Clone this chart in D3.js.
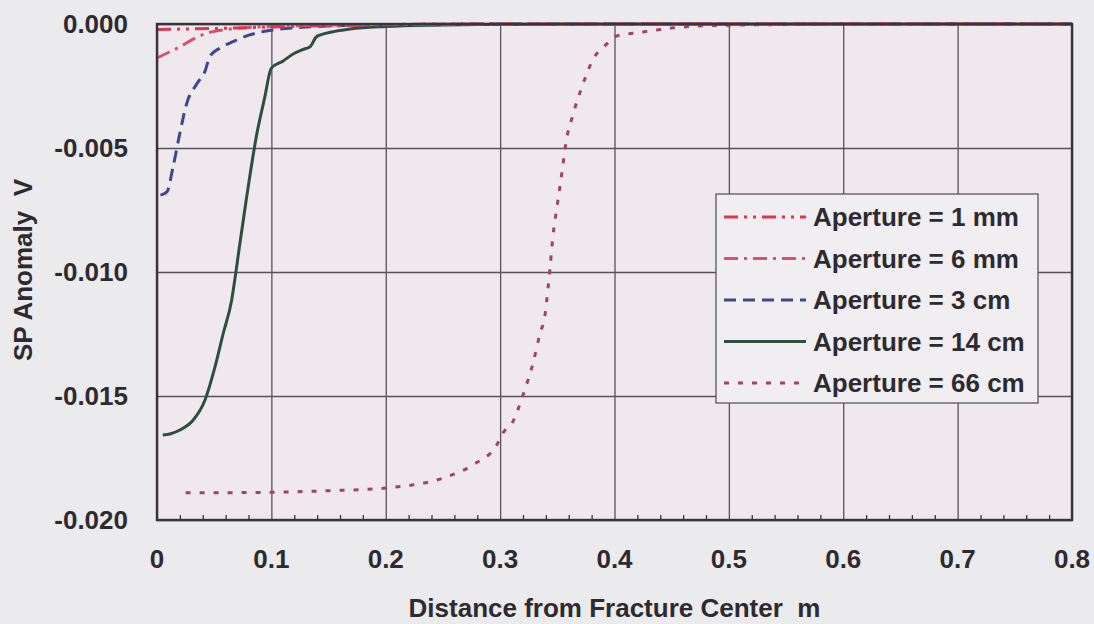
<!DOCTYPE html>
<html>
<head>
<meta charset="utf-8">
<script src="https://cdn.jsdelivr.net/npm/d3@7/dist/d3.min.js"></script>
<style>
  html, body { margin: 0; padding: 0; background: #ebeaec; }
  svg { display: block; }
  text { font-family: "Liberation Sans", Arial, sans-serif; font-weight: bold; fill: #2e2a31; white-space: pre; }
</style>
</head>
<body>
<svg id="chart" width="1094" height="624"></svg>
<script>
// SP anomaly vs distance from fracture centre, one series per aperture
const seriesNames = ["Aperture = 1 mm", "Aperture = 6 mm", "Aperture = 3 cm", "Aperture = 14 cm", "Aperture = 66 cm"];

const ap1mmX = [0, 0.05, 0.1, 0.15, 0.2, 0.3, 0.4, 0.5, 0.6, 0.7, 0.8];
const ap1mmY = [-0.00022, -0.00018, -0.00012, -0.00007, -0.00003, 0, 0, 0, 0, 0, 0];

const ap6mmX = [0, 0.01, 0.02, 0.033, 0.045, 0.061, 0.08, 0.1, 0.15, 0.2, 0.3, 0.4, 0.5, 0.6, 0.7, 0.8];
const ap6mmY = [-0.00137, -0.00115, -0.00092, -0.00058, -0.00035, -0.00022, -0.00014, -0.0001, -0.00005, -0.00002, 0, 0, 0, 0, 0, 0];

const ap3cmX = [0.003, 0.0087, 0.014, 0.02, 0.026, 0.035, 0.042, 0.0463, 0.055, 0.0665, 0.081, 0.101, 0.125, 0.15, 0.2, 0.3, 0.4, 0.5, 0.6, 0.7, 0.8];
const ap3cmY = [-0.0069, -0.00677, -0.00577, -0.0044, -0.0032, -0.0024, -0.0019, -0.0013, -0.00097, -0.00071, -0.00044, -0.00024, -0.00014, -0.00008, -0.00003, 0, 0, 0, 0, 0, 0];

const ap14cmX = [0.005, 0.012, 0.02, 0.0317, 0.042, 0.0507, 0.058, 0.0653, 0.069, 0.072, 0.078, 0.0874, 0.094, 0.1, 0.11, 0.119, 0.128, 0.134, 0.1396, 0.154, 0.169, 0.2, 0.25, 0.3, 0.4, 0.5, 0.6, 0.7, 0.8];
const ap14cmY = [-0.01657, -0.01652, -0.01637, -0.01597, -0.01516, -0.01383, -0.01246, -0.01113, -0.0100, -0.0090, -0.0071, -0.0044, -0.003, -0.00178, -0.0015, -0.00121, -0.00102, -0.00091, -0.00051, -0.00031, -0.0002, -0.0001, -0.00004, -0.00001, 0, 0, 0, 0, 0];

const ap66cmX = [0.025, 0.05, 0.1, 0.15, 0.2, 0.25, 0.276, 0.297, 0.3025, 0.311, 0.32, 0.329, 0.335, 0.339, 0.342, 0.3435, 0.346, 0.3497, 0.354, 0.3575, 0.3636, 0.3715, 0.381, 0.394, 0.4, 0.412, 0.425, 0.437, 0.45, 0.466, 0.5, 0.55, 0.6, 0.7, 0.8];
const ap66cmY = [-0.0189, -0.0189, -0.01888, -0.01882, -0.01871, -0.01831, -0.01778, -0.01698, -0.01649, -0.01605, -0.01496, -0.01363, -0.01246, -0.01181, -0.0106, -0.00992, -0.00863, -0.00738, -0.00601, -0.0048, -0.00367, -0.00254, -0.00145, -0.00077, -0.00052, -0.0004, -0.00032, -0.00024, -0.00016, -0.0001, -0.00005, -0.00002, 0, 0, 0];

const xTicks = [0, 0.1, 0.2, 0.3, 0.4, 0.5, 0.6, 0.7, 0.8];
const yTicks = [0, -0.005, -0.01, -0.015, -0.02];
const xTitle = "Distance from Fracture Center  m";
const yTitle = "SP Anomaly  V";

const seriesX = [ap1mmX, ap6mmX, ap3cmX, ap14cmX, ap66cmX];
const seriesY = [ap1mmY, ap6mmY, ap3cmY, ap14cmY, ap66cmY];
const colors = ["#df3650", "#d9506f", "#3f478c", "#2c4f3f", "#a2426c"];
const dashes = ["14,6,3,6,3,6", "14,6,3,6", "12,7", null, "5,9"];

const svg = d3.select("#chart");
const pLeft = 157, pRight = 1072, pTop = 24, pBottom = 520;

const x = d3.scaleLinear().domain([0, 0.8]).range([pLeft, pRight]);
const y = d3.scaleLinear().domain([-0.02, 0]).range([pBottom, pTop]);

// plot area
svg.append("rect")
  .attr("x", pLeft).attr("y", pTop)
  .attr("width", pRight - pLeft).attr("height", pBottom - pTop)
  .attr("fill", "#efe9ee");

// grid
svg.append("g")
  .attr("transform", `translate(0,${pBottom})`)
  .call(d3.axisBottom(x).tickValues(xTicks).tickSize(-(pBottom - pTop)).tickFormat(""))
  .call(g => g.select(".domain").remove())
  .call(g => g.selectAll("line").attr("stroke", "#57535a").attr("stroke-width", 1.3));
svg.append("g")
  .attr("transform", `translate(${pLeft},0)`)
  .call(d3.axisLeft(y).tickValues(yTicks).tickSize(-(pRight - pLeft)).tickFormat(""))
  .call(g => g.select(".domain").remove())
  .call(g => g.selectAll("line").attr("stroke", "#57535a").attr("stroke-width", 1.3));

// minor ticks along the bottom
const minor = d3.range(0, 0.8001, 0.02).filter(v => Math.abs(v * 10 - Math.round(v * 10)) > 1e-6);
svg.append("g")
  .attr("transform", `translate(0,${pBottom})`)
  .call(d3.axisBottom(x).tickValues(minor).tickSize(-5).tickFormat(""))
  .call(g => g.select(".domain").remove())
  .call(g => g.selectAll("line").attr("stroke", "#3a363d").attr("stroke-width", 1.3));

// series
const line = d3.line().x(d => x(d[0])).y(d => y(d[1])).curve(d3.curveMonotoneX);
for (let i = seriesNames.length - 1; i >= 0; i--) {
  const pts = seriesX[i].map((v, j) => [v, seriesY[i][j]]);
  svg.append("path")
    .attr("d", line(pts))
    .attr("fill", "none")
    .attr("stroke", colors[i])
    .attr("stroke-width", 3)
    .attr("stroke-dasharray", dashes[i]);
}

// frame
svg.append("rect")
  .attr("x", pLeft).attr("y", pTop)
  .attr("width", pRight - pLeft).attr("height", pBottom - pTop)
  .attr("fill", "none").attr("stroke", "#39343b").attr("stroke-width", 2.4);

// tick labels
svg.append("g")
  .selectAll("text").data(xTicks).join("text")
  .attr("x", d => x(d)).attr("y", 568)
  .attr("text-anchor", "middle")
  .style("font-size", "26px")
  .text(d => d === 0 ? "0" : d3.format(".1f")(d));
svg.append("g")
  .selectAll("text").data(yTicks).join("text")
  .attr("x", 128).attr("y", d => y(d) + 9)
  .attr("text-anchor", "end")
  .style("font-size", "26px")
  .text(d => d3.format(".3f")(d).replace("−", "-"));

// axis titles
svg.append("text")
  .attr("x", (pLeft + pRight) / 2).attr("y", 617)
  .attr("text-anchor", "middle")
  .style("font-size", "26px")
  .text(xTitle);
svg.append("text")
  .attr("transform", "translate(32,270) rotate(-90)")
  .attr("text-anchor", "middle")
  .style("font-size", "26px")
  .text(yTitle);

// legend
const lg = svg.append("g");
lg.append("rect")
  .attr("x", 716).attr("y", 194)
  .attr("width", 322).attr("height", 209)
  .attr("fill", "#f0eef0").attr("stroke", "#59555c").attr("stroke-width", 1.3);
seriesNames.forEach((name, i) => {
  const cy = 217 + i * 41.5;
  lg.append("line")
    .attr("x1", 724).attr("x2", 806).attr("y1", cy).attr("y2", cy)
    .attr("stroke", colors[i]).attr("stroke-width", 3)
    .attr("stroke-dasharray", dashes[i]);
  lg.append("text")
    .attr("x", 813).attr("y", cy + 9)
    .style("font-size", "26px")
    .text(name);
});
</script>
</body>
</html>
